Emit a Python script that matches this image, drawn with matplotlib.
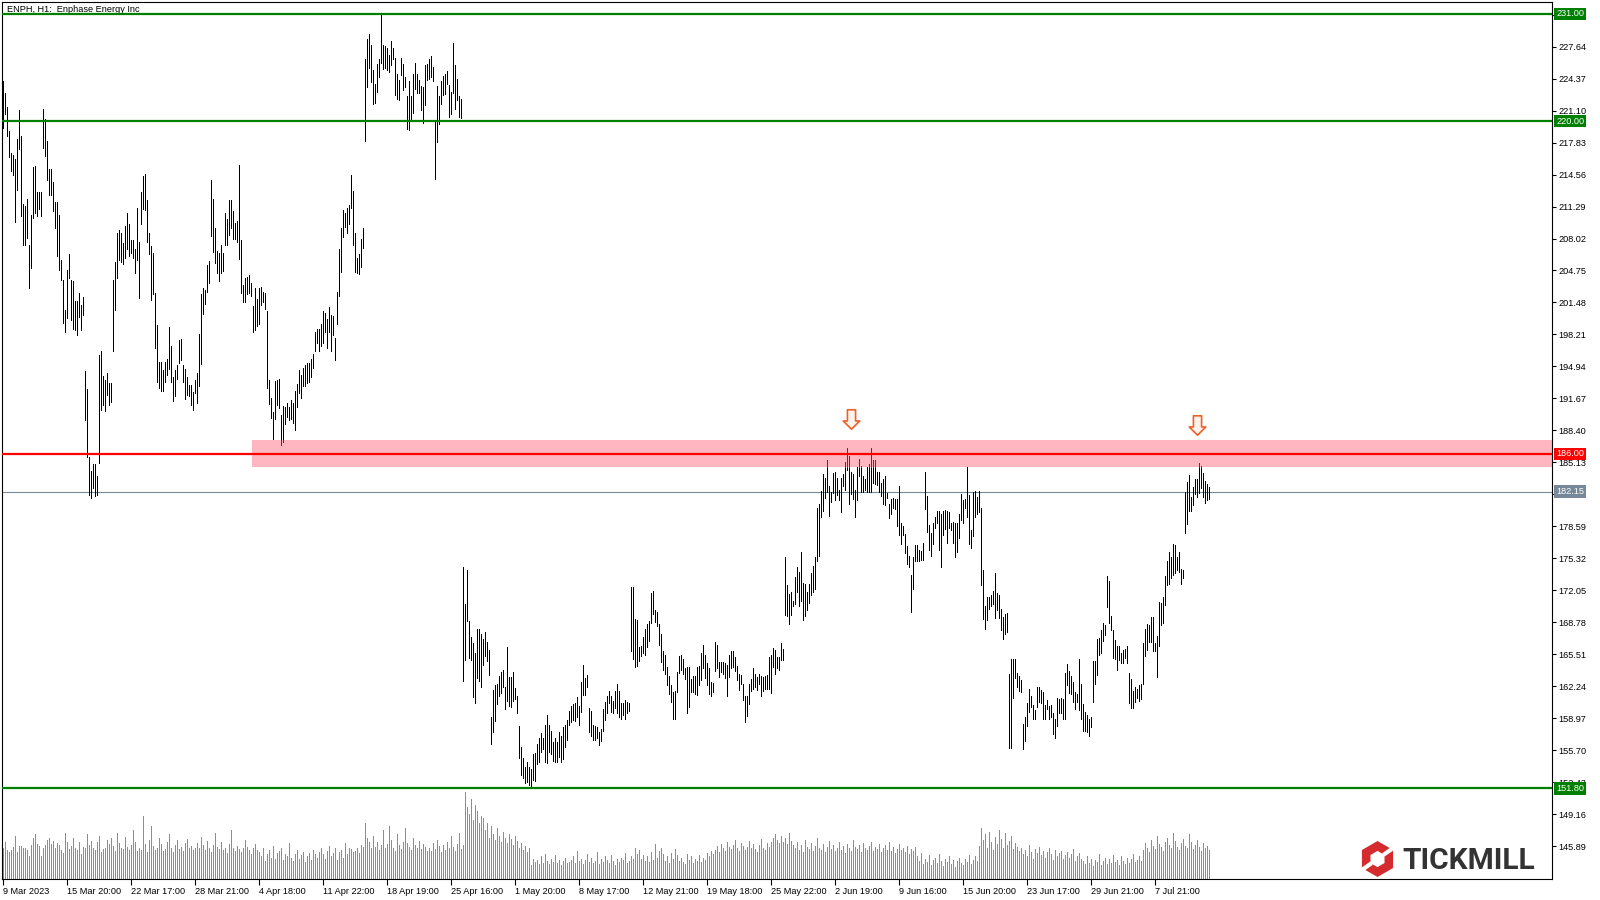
import numpy as np
import matplotlib.pyplot as plt
from matplotlib.collections import LineCollection
from matplotlib.patches import Rectangle, RegularPolygon
from matplotlib.path import Path

plt.rcParams['font.family'] = ['Liberation Sans', 'DejaVu Sans']

# H1 bars, high / low (9 Mar - 11 Jul 2023)
high = [
    224.1, 222.9, 221.5, 219.0, 216.8, 216.6, 216.1, 218.2, 221.2, 218.5,
    211.5, 211.3, 212.1, 207.4, 210.4, 215.3, 215.4, 212.8, 212.8, 212.8,
    221.3, 220.2, 218.0, 215.1, 215.1, 213.8, 211.8, 211.8, 210.4, 205.8,
    203.8, 200.7, 204.8, 206.4, 203.8, 203.7, 201.6, 201.6, 202.4, 201.2,
    202.0, 194.5, 192.6, 185.7, 184.3, 185.0, 185.0, 183.7, 196.1, 196.5,
    194.0, 193.6, 194.3, 193.2, 193.2, 203.8, 205.6, 208.6, 208.9, 208.6,
    207.6, 209.3, 210.6, 209.5, 207.9, 207.9, 206.9, 211.1, 207.7, 212.8,
    214.4, 214.6, 212.0, 208.6, 207.3, 206.5, 202.4, 199.2, 195.4, 195.4,
    194.6, 195.4, 195.7, 199.0, 197.0, 193.9, 194.6, 195.1, 197.6, 197.7,
    195.1, 194.7, 193.9, 193.0, 193.0, 192.3, 193.6, 194.3, 198.3, 202.3,
    203.0, 202.8, 205.3, 205.7, 214.0, 212.1, 209.1, 206.7, 206.5, 207.4,
    206.5, 210.6, 210.0, 212.0, 212.0, 210.8, 209.6, 209.8, 215.5, 207.9,
    203.3, 204.0, 204.1, 204.3, 203.5, 201.1, 203.0, 201.8, 203.0, 203.1,
    202.6, 202.4, 200.6, 193.6, 191.7, 190.3, 193.5, 193.6, 193.7, 190.0,
    190.9, 190.8, 191.2, 190.8, 191.5, 191.2, 192.4, 193.1,
    194.6, 194.1, 194.8, 195.1, 195.3, 195.3, 195.7, 196.2, 198.5, 198.8,
    198.8, 199.3, 200.6, 200.4, 199.8, 201.0, 200.2, 200.1, 197.9, 202.6,
    206.9, 209.1, 210.9, 210.6, 211.1, 211.4, 214.5, 212.9, 208.6, 206.0,
    206.4, 208.0, 209.1,
    226.4, 228.4, 228.9, 227.8, 225.2, 223.8, 225.9, 226.4, 230.9, 227.8,
    227.7, 227.5, 226.8, 228.2, 227.5, 226.5, 224.8, 224.2, 226.5, 225.9,
    224.5, 222.6, 224.1, 222.6, 224.8, 226.0, 224.8, 224.2, 223.6, 223.5,
    225.8, 225.9, 226.4, 226.7, 225.6, 220.1, 223.6, 222.6, 224.1, 224.6,
    224.8, 225.1, 223.7, 223.0, 228.0, 225.8, 224.3, 222.6, 222.3,
    174.4, 170.7, 174.1, 168.9, 167.3, 166.7, 165.6, 168.1, 168.1, 167.6,
    167.1, 167.8, 166.8, 166.0, 159.1, 161.9, 162.4, 162.5, 163.3, 163.7,
    163.9, 162.2, 166.3, 163.2, 163.2, 163.7, 162.1, 161.2, 158.2, 156.0,
    154.9, 154.0, 154.5, 154.0, 153.8, 155.3, 155.4, 156.3, 157.0, 157.5,
    157.0, 158.3, 159.3, 158.3, 157.7, 156.5, 157.0, 156.5, 157.6, 157.2,
    158.1, 158.3, 158.8, 159.7, 160.2, 160.4, 160.5, 161.1, 160.2, 162.7,
    164.4, 163.1, 163.4, 160.0, 159.7, 158.3, 158.2, 158.1,
    157.6, 157.9, 159.9, 160.6, 161.3, 161.8, 161.2, 160.7, 161.8, 162.5,
    161.8, 160.5, 160.5, 160.8, 160.6, 160.5,
    172.4, 172.4, 169.1, 169.0, 166.3, 166.4, 167.3, 168.1, 168.6, 168.9,
    171.8, 172.0, 170.0, 169.8, 168.6, 167.6, 165.9, 165.4, 164.2, 163.3,
    162.4, 161.7, 161.8, 163.7, 165.3, 165.4, 165.0, 164.1, 164.2, 164.2,
    163.0, 163.3, 163.3, 164.2, 164.3, 165.6, 166.5, 165.4, 164.6, 164.1,
    162.7, 162.6, 166.8, 166.5, 164.7, 164.7, 164.7, 164.6, 164.4, 165.4,
    165.9, 165.8, 165.2, 164.3, 163.5, 163.4, 162.5, 161.2, 161.2, 162.5,
    163.0, 164.1, 163.5, 163.2, 163.5, 163.3, 163.2, 163.3, 163.4, 165.2,
    165.4, 166.2, 166.0, 165.2, 165.2, 166.7, 166.1,
    175.5, 172.6, 171.7, 171.9, 171.0, 173.4, 174.4, 173.9, 176.0, 172.8,
    172.7, 171.9, 172.7, 173.8, 174.5, 175.5, 180.5, 180.9, 182.2, 183.9,
    183.5, 185.4, 182.7, 182.1, 184.0, 184.2, 183.5, 182.3, 183.5, 183.9,
    185.2, 186.6, 185.8, 184.2, 183.9, 182.3, 184.7, 185.5, 184.8, 183.7,
    183.4, 184.7, 185.0, 186.6, 185.4, 185.4, 184.2, 184.1, 183.0, 183.4,
    183.7, 182.0, 180.9, 181.4, 181.5, 181.4, 181.4,
    182.7, 178.9, 178.6, 177.8, 176.6, 175.6, 173.6, 175.5, 176.7, 176.7,
    176.2, 176.1, 176.9, 184.1, 181.7, 178.7, 177.9, 178.9, 179.6, 180.2,
    180.2, 179.9, 180.2, 180.3, 180.2, 180.1, 178.9, 179.0, 178.9, 178.9,
    179.9, 181.9, 181.3, 181.4, 184.7, 181.8, 178.2, 182.1, 182.2, 181.6,
    182.2, 180.5, 174.1, 170.4, 171.4, 171.4, 171.6, 172.0, 173.8, 171.8,
    171.6, 170.1, 169.3, 169.6, 169.7, 163.5, 165.0, 165.0, 165.0, 163.6,
    163.3, 162.9, 158.4, 159.1, 160.5, 162.0, 161.2, 160.3, 159.8, 162.2,
    162.2, 161.9, 161.7, 160.3, 160.8, 160.2, 160.3, 159.5, 158.9, 161.0,
    160.9, 161.0, 160.9, 163.6, 164.5, 163.8, 163.3, 162.7, 161.7, 161.5,
    165.0, 162.5, 160.4, 159.6, 159.3, 158.9, 159.1, 164.8, 164.8, 167.1,
    167.2, 168.0, 168.7, 168.5, 173.5, 173.0, 169.4, 168.0, 167.0, 166.4,
    166.4, 165.6, 166.0, 166.1, 166.4, 163.6, 163.0, 161.8, 162.2, 162.0,
    162.4, 162.5, 166.7, 168.1, 168.6, 168.5, 169.3, 169.3, 166.7, 167.4,
    170.9, 170.8, 171.4, 173.5, 175.1, 176.0, 175.5, 176.8, 176.7, 175.5,
    176.0, 174.2, 174.1, 182.1, 183.1, 183.8, 181.6, 182.6, 183.4, 183.4,
    185.1, 184.8, 184.0, 183.2, 182.9, 182.6,
]

low = [
    219.3, 220.7, 218.5, 216.4, 214.9, 214.5, 209.7, 213.0, 217.2, 210.3,
    207.4, 207.4, 208.1, 203.0, 205.0, 210.1, 210.6, 210.3, 211.0, 210.3,
    217.3, 216.5, 214.0, 212.5, 212.5, 210.8, 209.1, 206.2, 204.8, 203.8,
    199.4, 198.5, 199.9, 204.0, 199.7, 198.8, 198.7, 198.2, 200.0, 198.7,
    200.2, 189.5, 185.7, 181.8, 181.5, 182.5, 181.7, 181.8, 185.1, 190.5,
    191.0, 190.4, 192.0, 191.0, 191.3, 196.5, 200.7, 204.0, 205.8, 205.6,
    205.4, 206.0, 206.9, 206.2, 206.5, 206.0, 204.5, 205.8, 201.9, 209.5,
    211.0, 210.9, 207.7, 206.4, 201.7, 202.3, 196.8, 193.4, 192.7, 192.4,
    192.4, 193.3, 194.1, 194.7, 193.4, 191.4, 191.9, 193.7, 195.3, 195.6,
    193.4, 191.6, 192.0, 191.9, 191.0, 190.5, 192.2, 191.2, 192.9, 195.2,
    200.3, 201.3, 202.6, 203.5, 208.3, 206.6, 205.5, 204.5, 203.7, 204.5,
    204.7, 207.4, 207.4, 208.4, 209.1, 208.0, 208.0, 207.7, 205.9, 202.4,
    201.5, 201.5, 202.3, 202.4, 202.1, 198.5, 198.7, 199.1, 199.3, 201.2,
    201.5, 200.8, 192.7, 191.1, 189.7, 187.5, 189.6, 191.0, 190.7, 186.9,
    187.2, 189.1, 189.8, 189.5, 189.6, 189.2, 188.4, 190.8,
    192.2, 191.7, 192.9, 192.9, 193.2, 193.4, 193.9, 194.8, 196.5, 197.3,
    196.5, 197.0, 197.3, 198.5, 196.8, 198.5, 196.5, 198.2, 195.6, 199.3,
    202.1, 204.6, 208.2, 209.2, 208.6, 209.5, 211.1, 207.4, 204.6, 204.5,
    204.4, 205.1, 207.1,
    218.0, 223.5, 225.5, 224.0, 221.8, 221.9, 223.0, 224.5, 226.0, 225.4,
    225.5, 225.2, 225.0, 225.8, 226.4, 222.7, 222.3, 222.2, 224.7, 223.2,
    223.5, 219.2, 219.1, 220.1, 220.9, 223.3, 222.9, 222.9, 221.2, 219.8,
    221.7, 224.2, 224.3, 224.5, 224.1, 214.1, 217.9, 219.7, 221.8, 222.7,
    222.8, 223.8, 220.4, 220.8, 222.9, 221.3, 222.2, 220.4, 220.3,
    162.8, 164.9, 168.9, 165.1, 164.9, 161.1, 160.5, 163.1, 162.8, 162.2,
    164.4, 165.3, 164.8, 163.4, 156.3, 157.6, 158.7, 160.4, 161.2, 161.6,
    162.2, 159.9, 160.7, 160.2, 160.1, 160.7, 160.9, 159.5, 154.9, 153.2,
    152.9, 152.4, 152.5, 152.2, 152.0, 152.7, 152.6, 154.3, 154.5, 155.5,
    155.8, 154.5, 154.4, 155.5, 155.3, 154.6, 154.5, 154.5, 155.0, 154.5,
    154.8, 156.0, 156.8, 158.3, 158.6, 158.8, 158.7, 159.1, 158.3, 159.6,
    161.4, 161.4, 162.2, 157.6, 157.2, 156.8, 156.8, 157.0,
    156.2, 156.6, 157.7, 158.8, 159.5, 160.5, 159.6, 159.5, 160.0, 159.5,
    159.1, 158.9, 159.3, 158.9, 159.5, 159.7,
    165.8, 165.0, 164.2, 164.3, 164.8, 165.3, 165.6, 165.4, 166.3, 166.9,
    168.7, 169.6, 168.8, 168.4, 166.5, 164.7, 163.9, 163.5, 162.4, 161.5,
    160.6, 158.9, 158.9, 161.7, 163.6, 163.9, 163.5, 163.0, 159.5, 160.1,
    161.7, 161.7, 161.5, 161.4, 162.4, 162.9, 164.1, 163.1, 162.4, 161.5,
    161.3, 161.7, 163.8, 164.1, 163.2, 163.7, 163.5, 163.1, 161.3, 163.2,
    164.1, 164.2, 163.8, 162.9, 161.9, 162.5, 160.8, 158.6, 159.2, 160.4,
    161.8, 162.0, 162.2, 161.9, 162.5, 161.3, 161.8, 162.0, 162.0, 162.0,
    161.6, 164.2, 163.5, 164.1, 163.9, 164.9, 164.9,
    169.5, 169.4, 168.6, 169.5, 170.4, 170.7, 171.9, 170.5, 171.0, 169.0,
    169.4, 170.0, 170.8, 171.6, 171.9, 172.2, 175.1, 175.6, 179.6, 180.2,
    181.5, 182.1, 179.7, 181.1, 182.0, 181.3, 181.8, 181.3, 180.1, 182.7,
    182.3, 184.4, 180.9, 181.9, 181.4, 179.6, 181.3, 183.7, 182.1, 182.1,
    182.3, 182.1, 182.1, 182.1, 183.0, 182.9, 182.8, 182.1, 181.7, 180.9,
    180.8, 181.5, 179.4, 179.9, 180.5, 180.4, 178.6,
    177.7, 176.8, 177.7, 175.9, 174.7, 174.4, 169.8, 172.2, 175.1, 175.1,
    175.1, 175.2, 175.2, 180.4, 178.0, 176.2, 175.6, 176.8, 178.4, 178.9,
    176.2, 174.4, 177.7, 178.3, 176.9, 178.4, 178.2, 176.9, 175.5, 176.0,
    177.4, 179.2, 178.9, 180.5, 179.6, 176.8, 176.4, 177.6, 179.5, 179.9,
    180.1, 172.6, 169.1, 168.1, 169.0, 170.1, 170.5, 170.7, 169.2, 170.0,
    169.2, 168.0, 167.1, 167.6, 167.8, 155.9, 155.9, 161.0, 163.1, 162.2,
    161.8, 161.7, 155.8, 156.6, 158.2, 159.6, 160.1, 158.9, 158.9, 160.1,
    160.6, 160.5, 158.9, 158.9, 159.9, 158.9, 159.1, 157.4, 157.0, 158.2,
    159.5, 159.5, 158.9, 158.9, 162.4, 161.6, 161.5, 160.6, 159.9, 160.6,
    159.8, 158.9, 157.7, 157.7, 157.6, 157.2, 158.1, 160.6, 162.5, 163.4,
    165.4, 165.6, 166.9, 167.5, 170.3, 168.7, 168.0, 165.1, 165.0, 163.9,
    164.9, 164.6, 164.6, 165.1, 164.6, 160.5, 160.0, 160.0, 160.6, 161.0,
    160.7, 160.9, 162.5, 165.3, 166.0, 166.8, 166.8, 165.9, 165.9, 163.2,
    166.4, 168.5, 168.7, 170.6, 172.6, 172.7, 173.3, 173.6, 173.8, 174.1,
    173.9, 172.7, 173.3, 177.9, 178.8, 180.2, 180.2, 180.8, 181.9, 181.6,
    182.0, 182.5, 181.6, 181.0, 181.3, 181.4,
]

volume = [
    30, 36, 28, 26, 28, 31, 42, 26, 32, 32, 30, 30, 28, 22, 33, 40, 44, 34, 32, 22,
    30, 33, 38, 40, 34, 37, 30, 35, 33, 28,
    25, 45, 36, 29, 32, 40, 30, 28, 36, 24, 31, 30, 44, 33, 37, 30, 28, 36, 42, 26,
    29, 30, 38, 34, 40, 32, 27, 45, 35, 30, 29, 41, 31, 28, 33, 48, 36, 27, 30, 28,
    62, 34, 26, 38, 52, 32, 28, 30, 40, 34, 27, 29, 36, 44, 30, 26, 33, 38, 29, 31,
    27, 35, 39, 30, 32, 28, 30, 35, 30, 41, 33, 28, 37, 30, 26, 33, 45, 31, 29, 36,
    28, 30, 25, 34, 48, 30, 27, 32, 29, 26, 30, 38, 31, 28, 24, 30, 34,
    28, 26, 22, 30, 18, 24, 28, 21, 32, 20, 25, 27, 30, 19, 24, 22, 35, 21, 18, 24,
    28, 20, 23, 26, 17,
    22, 25, 19, 28, 24, 21, 26, 30, 24, 20, 27, 32, 22, 25, 30, 19, 26, 28, 21, 35,
    24, 30, 29, 26, 27, 30, 25, 33, 31,
    55, 40, 36, 30, 42, 31, 36, 28, 33, 48, 30, 34, 52, 38, 30, 27, 44, 33, 29, 36,
    50, 35, 31, 28, 40, 33, 30, 37, 29, 34, 31, 27,
    30, 27, 35, 29, 38, 32, 26, 33, 28, 36, 30, 42, 31, 27, 34, 45, 29, 33,
    85, 70, 64, 78, 58, 72, 66, 55, 62, 60,
    48, 55, 40, 52, 44, 38, 50, 42, 36, 46, 40, 35, 44, 39, 33, 42, 37, 30, 35, 28,
    32, 26, 30,
    14, 20, 17, 19, 15, 22, 16, 24, 18, 15, 20, 17, 23, 16, 19, 14, 18, 21, 16, 17,
    19,
    22, 16, 27, 18, 20, 15, 19, 24, 17, 21, 16, 18, 26, 15, 20, 17, 22, 19, 16, 23,
    18, 14, 20, 17, 21, 19, 25, 16, 18, 22, 20,
    30, 24, 28, 20, 23, 18, 22, 17, 26, 19, 34, 21, 27, 30, 24, 18, 22, 16, 25, 20,
    29, 23, 18, 21, 17, 15, 24, 19, 22, 16, 20, 18, 23, 17, 21, 19, 25, 22, 27, 24,
    28, 32, 26, 34, 30, 27, 36, 31, 29, 33, 38, 30, 27, 35, 32, 28, 31, 37, 30, 34,
    29, 26, 33, 39, 30, 28, 35, 31, 36, 40,
    44, 38, 35, 42, 36, 40, 34, 45, 37, 33,
    30, 36, 28, 33, 26, 38, 31, 29, 35, 27, 32, 40, 30, 28, 34, 26, 31, 37, 29, 33,
    27, 30, 36, 28, 32, 25, 34, 30, 27, 38, 31, 29, 33, 26, 35, 30, 28, 32, 36, 27,
    31, 29, 34, 26, 30, 33, 28, 36, 27, 31, 25, 29, 34, 28, 30, 26, 32, 24, 29, 27,
    31,
    22, 18, 25, 15, 20, 17, 23, 14, 19, 21, 16, 24, 18, 13, 20, 17, 22, 15, 19, 12,
    18, 21, 16, 14, 20, 17, 23, 15, 19, 22, 18,
    32, 50, 38, 44, 30, 46, 36, 28, 41, 34, 48, 39, 30, 45, 33, 37, 42, 29, 35, 31,
    27,
    30, 24, 28, 22, 33, 26, 20, 29, 25, 31, 23, 27, 21, 26, 30, 24, 19, 28, 22, 25,
    27, 20, 23, 26, 21, 24, 29, 18, 22, 25, 20,
    18, 15, 22, 16, 20, 13, 19, 17, 24, 14, 18, 21, 15, 20, 16, 23, 17, 19, 14, 22,
    18, 15, 21, 16, 20, 24, 17, 19, 22, 18,
    28, 35, 30, 26, 38, 32, 29, 42, 34, 31, 27, 36, 40, 33, 30, 45, 37, 31, 28, 35,
    39, 32, 30, 44, 36, 29, 33, 38, 31, 27, 35, 30, 32, 28,
]

date_labels = ['9 Mar 2023', '15 Mar 20:00', '22 Mar 17:00', '28 Mar 21:00',
               '4 Apr 18:00', '11 Apr 22:00', '18 Apr 19:00', '25 Apr 16:00',
               '1 May 20:00', '8 May 17:00', '12 May 21:00', '19 May 18:00',
               '25 May 22:00', '2 Jun 19:00', '9 Jun 16:00', '15 Jun 20:00',
               '23 Jun 17:00', '29 Jun 21:00', '7 Jul 21:00']
label_bars = [0, 32, 64, 96, 128, 160, 192, 224, 256, 288, 320, 352,
              384, 416, 448, 480, 512, 544, 576]

green_levels = [231.00, 220.00, 151.80]
resistance = 186.00
last_price = 182.15
zone_low, zone_high = 184.7, 187.4
zone_start = 124.5
arrow_x = [424, 597]
arrow_y = [189.6, 189.0]

W, H = 1600, 900
fig = plt.figure(figsize=(16, 9), dpi=100)
pos = [2 / W, 1 - 879 / H, 1550 / W, 877 / H]

# volume sits underneath in its own axes
axv = fig.add_axes(pos)
axv.vlines(np.arange(len(volume)), 0, volume, colors='#32cd32',
           linewidth=0.5, antialiased=False)
axv.set_xlim(-0.5, 774.5)
axv.set_ylim(0, 857)
axv.axis('off')

ax = fig.add_axes(pos)
ax.set_facecolor('none')
ax.set_xlim(-0.5, 774.5)
ax.set_ylim(142.54, 232.2)

ax.add_patch(Rectangle((zone_start, zone_low), 800, zone_high - zone_low,
                       facecolor='#ffb6c1', edgecolor='none', zorder=1))

x = np.arange(len(high))
segs = [[(i, l), (i, h)] for i, h, l in zip(x, high, low)]
ax.add_collection(LineCollection(segs, colors='black', linewidths=0.5,
                                 antialiased=False, zorder=3))

# bar parts inside the zone show darker
zsegs = []
for i, h, l in zip(x, high, low):
    if i >= zone_start and h > zone_low and l < zone_high:
        zsegs.append([(i, max(l, zone_low)), (i, min(h, zone_high))])
ax.add_collection(LineCollection(zsegs, colors='#17524a', linewidths=0.5,
                                 antialiased=False, zorder=3.5))

ax.axhline(last_price, color='#778899', lw=0.8, zorder=2)
for lv in green_levels:
    ax.axhline(lv, color='#008000', lw=1.6, zorder=4)
ax.axhline(resistance, color='#ff0000', lw=1.6, zorder=4)

arrow = Path([(-0.42, 1.0), (0.42, 1.0), (0.42, -0.15), (0.85, -0.15),
              (0.0, -1.0), (-0.85, -0.15), (-0.42, -0.15), (-0.42, 1.0)],
             [Path.MOVETO] + [Path.LINETO] * 6 + [Path.CLOSEPOLY])
ax.plot(arrow_x, arrow_y, linestyle='none', marker=arrow, markersize=14,
        markerfacecolor='#fff3ec', markeredgecolor='#f0602a',
        markeredgewidth=1.2, zorder=5)

# right price scale
yt = [145.89 + 3.27 * k for k in range(27)]
ax.yaxis.tick_right()
ax.set_yticks(yt)
ax.set_yticklabels([f'{v:.2f}' for v in yt])
ax.tick_params(axis='y', direction='out', length=3, width=0.8, pad=1.5,
               labelsize=6.6)
ax.set_xticks(label_bars)
ax.set_xticklabels(date_labels)
for lbl in ax.get_xticklabels():
    lbl.set_horizontalalignment('left')
ax.tick_params(axis='x', direction='out', length=4, width=0.8, pad=2,
               labelsize=6.6)
for sp in ax.spines.values():
    sp.set_linewidth(0.8)

tr = ax.get_yaxis_transform()
tags = [(231.00, '#008000'), (220.00, '#008000'), (186.00, '#ff0000'),
        (182.15, '#778899'), (151.80, '#008000')]
for val, col in tags:
    ax.text(1.0 + 4 / 1550, val, f'{val:.2f}', transform=tr, ha='left',
            va='center', color='white', fontsize=6.6, zorder=6, clip_on=False,
            bbox=dict(boxstyle='square,pad=0.18', fc=col, ec='none'))

ax.text(5 / 1550, 1 - 10 / 877, 'ENPH, H1:  Enphase Energy Inc',
        transform=ax.transAxes, fontsize=6.6, va='baseline', ha='left')

# Tickmill logo
axl = fig.add_axes([(1377.5 - 18) / W, 1 - (859 + 18) / H, 36 / W, 36 / H])
axl.set_xlim(-1, 1)
axl.set_ylim(-1, 1)
axl.axis('off')
axl.add_patch(RegularPolygon((0, 0), 6, radius=1.0, facecolor='#d52b2f',
                             edgecolor='none'))
axl.add_patch(RegularPolygon((0, 0), 6, radius=0.45, facecolor='white',
                             edgecolor='none'))
for ang in (35, 215):
    a = np.deg2rad(ang)
    axl.plot([0.4 * np.cos(a), 1.1 * np.cos(a)], [0.4 * np.sin(a), 1.1 * np.sin(a)],
             color='white', lw=3, solid_capstyle='butt')
fig.text(1402 / W, 1 - 869 / H, 'TICKMILL', fontsize=21.5, fontweight='bold',
         family='Roboto', color='#333333', ha='left', va='baseline')

fig.savefig('out.png', dpi=100)
